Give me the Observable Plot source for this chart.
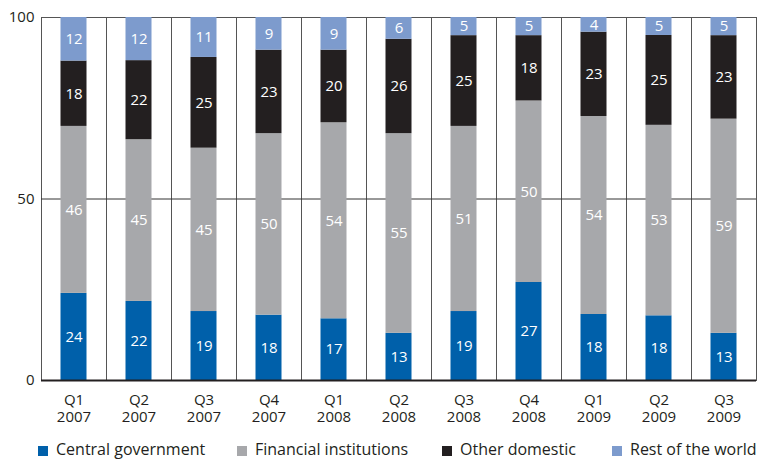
<!DOCTYPE html>
<html>
<head>
<meta charset="utf-8">
<script src="https://cdn.jsdelivr.net/npm/d3@7"></script>
<script src="https://cdn.jsdelivr.net/npm/@observablehq/plot@0.6"></script>
<style>
  body { margin: 0; background: #fff; overflow: hidden; font-family: "Open Sans", sans-serif; color: #231f20; }
  #wrap { position: relative; width: 758px; height: 459px; overflow: hidden; }
  #title { position: absolute; left: 37px; top: -10px; font-size: 15px; line-height: 18px; font-weight: bold; white-space: nowrap; }
  #chart { position: absolute; left: 0; top: 0; }
  .item { position: absolute; top: 439px; font-size: 16px; line-height: 20px; white-space: nowrap; }
  .sw { display: inline-block; width: 10px; height: 10px; margin-right: 8px; vertical-align: -1px; }
</style>
</head>
<body>
<div id="wrap">
  <div id="title">Statistics Sweden. Per cent.</div>
  <div id="chart"></div>
  <div id="legend"></div>
</div>
<script>
// Holders of central government debt by quarter, per cent of total
const quarters = ["Q1 2007", "Q2 2007", "Q3 2007", "Q4 2007", "Q1 2008", "Q2 2008",
                  "Q3 2008", "Q4 2008", "Q1 2009", "Q2 2009", "Q3 2009"];
const series = ["Central government", "Financial institutions", "Other domestic", "Rest of the world"];
const colors = ["#0060aa", "#a7a8ab", "#231f20", "#7d9bcd"];

const centralGovernment     = [24, 22, 19, 18, 17, 13, 19, 27, 18, 18, 13];
const financialInstitutions = [46, 45, 45, 50, 54, 55, 51, 50, 54, 53, 59];
const otherDomestic         = [18, 22, 25, 23, 20, 26, 25, 18, 23, 25, 23];
const restOfTheWorld        = [12, 12, 11,  9,  9,  6,  5,  5,  4,  5,  5];

const yTicks = [0, 50, 100];
const legendLeft = [38, 237, 442, 612];

// Long table: one row per quarter and holder, bottom-of-stack series first
const columns = [centralGovernment, financialInstitutions, otherDomestic, restOfTheWorld];
const rows = series.flatMap((s, i) =>
  quarters.map((q, j) => ({quarter: q, series: s, value: columns[i][j]}))
);

const stacked = (opts) => Plot.stackY({offset: "normalize", fx: "quarter", y: "value", z: "series", ...opts});

// quarter label, first line "Qn", second line the year
const labelLine = (k, dy) => Plot.text(quarters, {
  fx: d => d, text: d => d.split(" ")[k], frameAnchor: "bottom",
  lineAnchor: "middle", dy, fontSize: 15, fill: "#231f20"
});

const chart = Plot.plot({
  width: 758,
  height: 430,
  marginLeft: 40,
  marginRight: 1,
  marginTop: 17,
  marginBottom: 50,
  style: {fontFamily: "Open Sans, sans-serif", fontSize: "15px", color: "#231f20", background: "white", overflow: "visible"},
  fx: {domain: quarters, padding: 0, label: null, axis: null},
  y: {percent: true, domain: [0, 100], label: null},
  color: {domain: series, range: colors},
  marks: [
    Plot.frame({stroke: "#555", strokeWidth: 1}),
    Plot.ruleY([0.5], {stroke: "#333", strokeWidth: 1}),
    Plot.barY(rows, stacked({fill: "series", insetLeft: 19.5, insetRight: 19.5})),
    Plot.text(rows, stacked({text: "value", fill: "white", fontSize: 15})),
    Plot.ruleY([0], {stroke: "#231f20", strokeWidth: 2}),
    Plot.axisY({ticks: yTicks, tickSize: 0, tickPadding: 7, label: null, fontSize: 15}),
    labelLine(0, 20),
    labelLine(1, 37)
  ]
});
document.getElementById("chart").append(chart);

// Legend row below the plot
const legend = document.getElementById("legend");
series.forEach((s, i) => {
  const item = document.createElement("div");
  item.className = "item";
  item.style.left = legendLeft[i] + "px";
  item.innerHTML = `<span class="sw" style="background:${colors[i]}"></span>${s}`;
  legend.append(item);
});
</script>
</body>
</html>
